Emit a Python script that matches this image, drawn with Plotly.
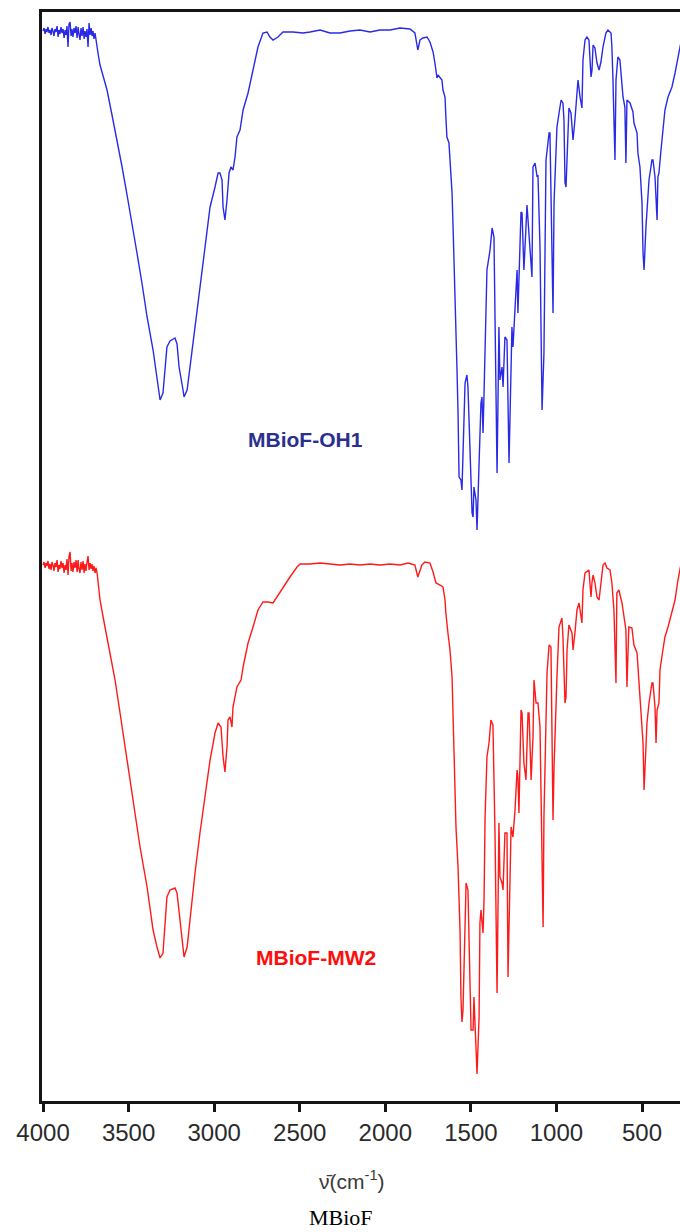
import plotly.graph_objects as go

# FTIR spectrum of MBioF-OH1 (wavenumber in cm-1, transmittance in a.u.)
blue_wn = [4000, 3994, 3988, 3983, 3977, 3971, 3965, 3959, 3953, 3948, 3942, 3936, 3930, 3924,
           3918, 3912, 3907, 3901, 3895, 3889, 3883, 3877, 3871, 3866, 3860, 3854, 3848, 3842,
           3836, 3831, 3825, 3819, 3813, 3807, 3801, 3795, 3790, 3784, 3778, 3772, 3766, 3760,
           3755, 3749, 3743, 3737, 3731, 3725, 3719, 3714, 3708, 3702, 3696, 3690, 3684, 3678,
           3667, 3649, 3626, 3597, 3568, 3538, 3509,
           3480, 3451, 3422, 3392, 3357, 3334, 3316, 3299, 3287, 3276, 3258, 3229, 3217, 3205,
           3182, 3176, 3158, 3141, 3112, 3083, 3053, 3024, 2995, 2977, 2966, 2954, 2948, 2937,
           2925, 2913, 2902, 2890, 2878, 2867, 2849, 2831, 2802, 2773, 2744, 2715, 2691, 2674,
           2656, 2627, 2598, 2539, 2481, 2440, 2381, 2323, 2265, 2206, 2148, 2089, 2031, 1972,
           1914, 1856, 1827, 1810, 1797, 1780, 1756, 1739, 1721, 1710, 1698, 1692, 1669, 1663,
           1651, 1646, 1640, 1628, 1622, 1610, 1604, 1593, 1587, 1581, 1575, 1569, 1558, 1552,
           1534, 1523, 1517, 1505, 1493, 1487, 1482, 1470, 1464, 1452, 1441, 1435, 1429, 1423,
           1411, 1406, 1388, 1376, 1365, 1359, 1347, 1336, 1330, 1318, 1312, 1301, 1289, 1277,
           1265, 1260, 1254, 1242, 1230, 1225, 1213, 1207, 1201, 1190, 1178, 1172, 1154, 1143,
           1137, 1125, 1113, 1108, 1096, 1084, 1073, 1061, 1043, 1038, 1026, 1020, 1014, 997,
           973, 962, 956, 950, 944, 938, 927, 915, 909, 903, 892, 880, 874, 862, 851, 845, 833,
           822, 810, 798, 792, 786, 775, 763, 751, 740, 728, 711, 699, 681, 676, 670, 658, 652,
           641, 629, 617, 611, 600, 594, 588, 570, 553, 547, 529, 524, 512, 500, 494, 488, 477,
           471, 459, 442, 436, 424, 412, 407, 401, 389, 378, 366, 348, 325, 307, 290, 278, 270]
blue_t = [107.1, 107.4, 106.8, 107.3, 107.0, 107.5, 106.9, 107.2, 106.7, 107.4, 107.1, 106.6, 107.3, 107.0,
          107.6, 106.5, 107.2, 106.8, 107.5, 106.9, 107.3, 106.4, 107.2, 106.7, 107.6, 105.5, 107.8, 108.0,
          106.6, 107.3, 106.5, 107.4, 106.9, 107.6, 106.4, 107.5, 106.8, 106.2, 107.4, 106.6, 107.5, 106.3,
          107.1, 106.5, 107.3, 105.5, 107.9, 106.7, 107.4, 106.6, 107.1, 106.3, 106.9, 106.0, 105.4, 104.8,
          103.7, 102.5, 101.2, 98.7, 96.2, 93.5, 90.7,
          88.0, 84.9, 81.9, 78.5, 75.2, 72.2, 70.2, 70.9, 73.5, 75.5, 76.1, 76.4, 75.8, 73.5,
          71.2, 70.5, 71.2, 73.5, 77.5, 81.9, 85.5, 89.5, 91.5, 92.9, 92.9, 92.2, 89.5, 88.2,
          90.2, 92.9, 93.5, 93.2, 94.5, 96.5, 97.2, 99.2, 100.9, 103.2, 105.5, 106.9, 107.0, 106.5,
          106.2, 106.5, 107.0, 107.0, 106.9, 107.0, 107.2, 106.9, 106.9, 107.1, 107.2, 107.0, 107.2, 107.2,
          107.4, 107.3, 106.9, 105.2, 106.2, 106.4, 106.5, 106.0, 105.0, 103.9, 102.4, 102.7, 102.2, 101.2,
          100.5, 98.5, 96.5, 95.9, 94.2, 90.9, 87.5, 81.5, 76.5, 73.2, 68.9, 62.5, 62.2, 61.2,
          71.9, 72.7, 71.5, 65.5, 58.9, 58.5, 61.5, 60.2, 57.2, 63.9, 69.9, 70.5, 66.9, 70.9,
          78.9, 83.2, 85.2, 87.4, 86.5, 76.9, 62.9, 77.5, 72.2, 73.5, 71.5, 76.5, 76.2, 63.9,
          73.2, 77.5, 75.5, 79.2, 83.2, 78.9, 84.9, 89.0, 88.9, 83.2, 87.5, 89.7, 85.2, 82.5,
          93.5, 93.9, 92.5, 92.7, 85.5, 69.2, 74.9, 94.2, 96.9, 96.9, 84.9, 78.9, 89.9, 97.5,
          100.2, 99.9, 98.2, 91.9, 91.5, 94.9, 99.4, 98.9, 96.9, 96.2, 98.2, 101.2, 102.2, 100.5, 99.4, 104.2, 106.2,
          106.5, 106.2, 102.5, 103.2, 105.7, 105.4, 103.9, 103.2, 104.0, 105.5, 106.9, 107.2, 106.9, 105.5, 102.4, 94.2, 102.2,
          104.5, 104.2, 102.2, 100.5, 99.5, 93.9, 100.2, 99.9, 99.0, 97.9, 96.9, 94.9, 93.5, 89.9, 84.9, 83.2, 87.5,
          89.5, 92.2, 94.2, 94.2, 92.5, 88.2, 92.5, 92.9, 95.2, 97.5, 99.2, 100.5, 101.5, 102.9, 104.5, 105.5, 106.2]

# FTIR spectrum of MBioF-MW2 (wavenumber in cm-1, transmittance in a.u.)
red_wn = [4000, 3994, 3988, 3983, 3977, 3971, 3965, 3959, 3953, 3948, 3942, 3936, 3930, 3924,
          3918, 3912, 3907, 3901, 3895, 3889, 3883, 3877, 3871, 3866, 3860, 3854, 3848, 3842,
          3836, 3831, 3825, 3819, 3813, 3807, 3801, 3795, 3790, 3784, 3778, 3772, 3766, 3760,
          3755, 3749, 3743, 3737, 3731, 3725, 3719, 3714, 3708, 3702, 3696, 3690, 3684, 3678,
          3667, 3638, 3608, 3579, 3550, 3521, 3492,
          3462, 3433, 3392, 3357, 3334, 3316, 3299, 3287, 3276, 3258, 3229, 3217, 3200, 3182,
          3176, 3158, 3141, 3112, 3083, 3053, 3024, 2995, 2977, 2960, 2948, 2937, 2925, 2919,
          2907, 2896, 2890, 2867, 2843, 2831, 2802, 2773, 2744, 2715, 2686, 2656, 2633, 2598,
          2557, 2516, 2498, 2440, 2381, 2323, 2265, 2206, 2148, 2089, 2031, 1972, 1914, 1867,
          1827, 1810, 1786, 1768, 1739, 1721, 1704, 1680, 1663, 1651, 1646, 1634, 1622, 1610,
          1604, 1598, 1587, 1575, 1563, 1558, 1552, 1546, 1534, 1528, 1517, 1511, 1499, 1487,
          1482, 1476, 1464, 1452, 1447, 1441, 1429, 1423, 1417, 1406, 1394, 1383, 1371, 1359,
          1347, 1336, 1330, 1318, 1312, 1301, 1289, 1283, 1271, 1265, 1254, 1242, 1230, 1225,
          1219, 1207, 1201, 1190, 1178, 1166, 1160, 1148, 1137, 1131, 1119, 1108, 1096, 1084,
          1078, 1073, 1061, 1055, 1043, 1032, 1020, 1014, 997, 985, 968, 962, 950, 944, 938,
          927, 909, 903, 892, 880, 868, 851, 845, 833, 810, 798, 792, 786, 775, 763, 751, 740,
          728, 716, 705, 687, 676, 664, 652, 647, 635, 617, 606, 594, 588, 577, 559, 547, 529,
          518, 506, 494, 488, 477, 471, 459, 442, 436, 424, 418, 412, 401, 395, 378, 366, 348,
          325, 307, 290, 278, 270]
red_t = [53.7, 54.0, 53.4, 53.9, 53.6, 54.1, 53.3, 53.8, 53.2, 54.0, 53.7, 53.1, 53.9, 53.5,
         54.2, 53.0, 53.7, 53.3, 54.1, 53.4, 53.9, 52.9, 53.7, 53.2, 54.3, 52.7, 54.6, 55.0,
         53.1, 53.9, 53.0, 54.0, 53.4, 54.2, 53.0, 54.2, 53.3, 52.9, 54.0, 53.2, 54.1, 52.9,
         53.8, 53.1, 54.0, 54.6, 53.2, 53.9, 53.3, 53.8, 53.1, 53.6, 52.9, 53.4, 52.9, 52.0,
         50.2, 47.5, 44.9, 42.2, 38.9, 35.5, 32.2,
         28.9, 25.5, 21.5, 17.2, 15.5, 14.4, 14.9, 18.5, 20.5, 21.2, 21.4, 20.9, 18.2, 15.2,
         14.5, 15.5, 18.5, 22.9, 26.9, 30.9, 34.2, 36.9, 37.9, 37.5, 34.5, 33.0, 35.5, 38.2,
         38.5, 37.5, 39.5, 41.5, 42.2, 43.5, 45.9, 47.5, 49.2, 50.0, 50.0, 49.9, 50.5, 51.5,
         52.5, 53.5, 53.8, 53.8, 53.9, 53.8, 53.7, 53.8, 53.7, 53.8, 53.7, 53.8, 53.7, 53.9,
         53.7, 52.5, 53.7, 54.0, 53.9, 53.0, 51.9, 51.7, 51.5, 50.2, 48.9, 46.9, 45.2, 42.5,
         38.5, 33.5, 27.5, 23.5, 16.9, 10.5, 8.0, 9.2, 17.2, 21.9, 21.2, 15.2, 7.2, 7.2,
         10.5, 7.9, 2.8, 8.5, 17.9, 19.2, 16.9, 20.2, 28.5, 34.5, 35.9, 38.2, 37.7, 26.9,
         10.9, 27.9, 22.5, 21.9, 21.2, 26.9, 26.9, 12.5, 23.2, 27.5, 26.5, 29.2, 33.2, 32.5,
         28.9, 39.2, 38.9, 33.9, 32.2, 38.9, 38.9, 32.2, 36.5, 42.2, 39.9, 39.9, 37.5, 21.9,
         17.5, 28.5, 37.2, 42.9, 45.7, 45.5, 28.2, 33.5, 42.5, 47.5, 48.4, 46.5, 39.9, 40.5, 45.2,
         47.7, 46.9, 45.2, 46.9, 49.2, 49.9, 47.9, 51.2, 52.9, 53.2, 50.5, 52.0, 52.7, 51.9, 50.5, 50.2, 51.9,
         53.7, 53.9, 53.4, 53.2, 51.9, 49.2, 41.9, 50.9, 51.2, 49.9, 48.5, 47.2, 41.5, 47.5, 47.4, 45.7, 44.9,
         41.9, 39.2, 35.9, 31.2, 35.2, 37.9, 39.9, 41.9, 41.9, 39.5, 35.9, 39.2, 39.9, 43.2, 45.2, 46.5, 47.5,
         48.9, 50.2, 52.2, 53.2, 54.0]

tick_vals = [4000, 3500, 3000, 2500, 2000, 1500, 1000, 500]
tick_text = ["4000", "3500", "3000", "2500", "2000", "1500", "1000", "500"]

fig = go.Figure()
fig.add_trace(go.Scatter(x=blue_wn, y=blue_t, mode="lines",
                         line=dict(color="#2a2ae6", width=1.4), showlegend=False))
fig.add_trace(go.Scatter(x=red_wn, y=red_t, mode="lines",
                         line=dict(color="#ff1a1a", width=1.4), showlegend=False))

axis_col = "#151515"
fig.update_layout(
    width=680, height=1232,
    margin=dict(l=42, r=0, t=12, b=131),
    paper_bgcolor="white", plot_bgcolor="white",
    xaxis=dict(range=[4006, 278], tickvals=tick_vals, ticktext=tick_text,
               showgrid=False, zeroline=False, showline=True, linecolor=axis_col,
               linewidth=3, mirror=True, ticks="outside", ticklen=8, tickwidth=2.5,
               tickcolor=axis_col,
               tickfont=dict(family="Arial, Liberation Sans", size=24, color="#2a2a2a")),
    yaxis=dict(range=[0.1, 109.0], showgrid=False, zeroline=False, showline=True,
               linecolor=axis_col, linewidth=3, showticklabels=False, ticks=""),
    annotations=[
        dict(x=2469, y=66.3, xref="x", yref="y", text="<b>MBioF-OH1</b>", showarrow=False,
             font=dict(family="Arial, Liberation Sans", size=21, color="#2b2f8f")),
        dict(x=2405, y=14.5, xref="x", yref="y", text="<b>MBioF-MW2</b>", showarrow=False,
             font=dict(family="Arial, Liberation Sans", size=21, color="#ff0d0d")),
        dict(x=0.486, y=-0.0725, xref="paper", yref="paper",
             text="ν̄(cm<sup>-1</sup>)", showarrow=False, yanchor="middle",
             font=dict(family="Arial, Liberation Sans", size=21, color="#3a3a3a")),
        dict(x=0.469, y=-0.1074, xref="paper", yref="paper", text="MBioF", showarrow=False,
             yanchor="middle",
             font=dict(family="Liberation Serif, Times New Roman", size=22, color="#000000")),
    ],
)

fig.write_html("out.html")
